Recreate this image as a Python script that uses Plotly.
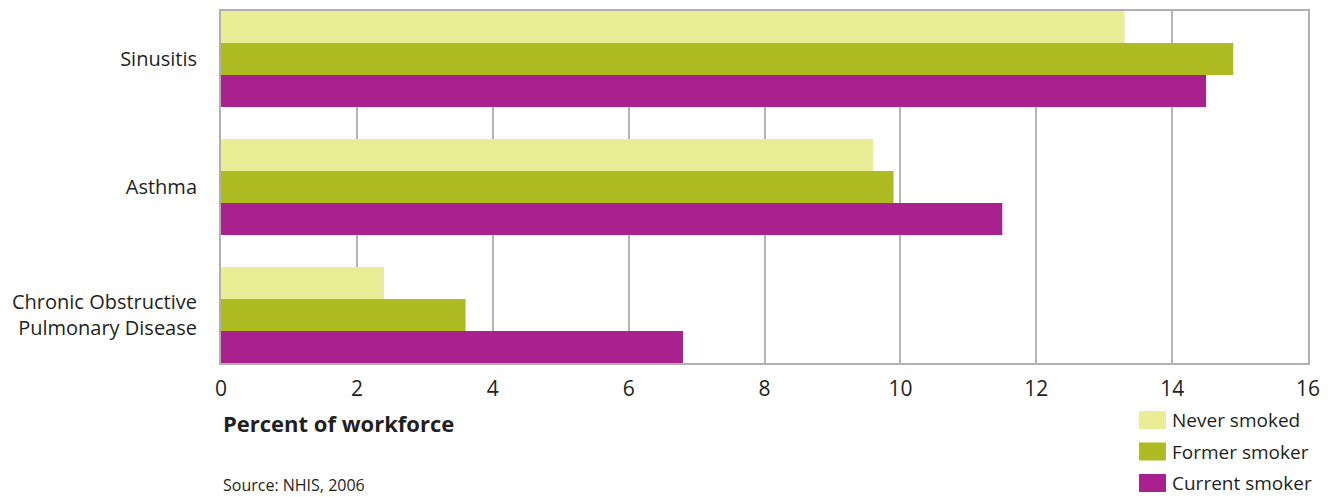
import plotly.graph_objects as go

categories = ["Sinusitis", "Asthma", "Chronic Obstructive<br>Pulmonary Disease"]
series_names = ["Never smoked", "Former smoker", "Current smoker"]
never_smoked = [13.3, 9.6, 2.4]
former_smoker = [14.9, 9.9, 3.6]
current_smoker = [14.5, 11.5, 6.8]
colors = ["#EAEC96", "#AFBC21", "#A8218E"]
x_ticks = [0, 2, 4, 6, 8, 10, 12, 14, 16]

FONT = "Open Sans"
TXT = "#231F20"

fig = go.Figure()
for name, vals, col in zip(series_names, [never_smoked, former_smoker, current_smoker], colors):
    fig.add_trace(go.Bar(y=categories, x=vals, orientation="h", name=name,
                         marker=dict(color=col, line=dict(width=0)), showlegend=False))

# custom legend
for i, (name, col) in enumerate(zip(series_names, colors)):
    yc = 419 + 31.5 * i
    fig.add_shape(type="rect", xref="paper", yref="paper",
                  x0=(1139 - 221) / 1087, x1=(1166 - 221) / 1087,
                  y0=(362 - (yc + 9)) / 352, y1=(362 - (yc - 9)) / 352,
                  fillcolor=col, line=dict(width=0))
    fig.add_annotation(text=name, xref="paper", yref="paper",
                       x=(1170 - 221) / 1087, y=(362 - yc) / 352,
                       xanchor="left", yanchor="middle", showarrow=False,
                       font=dict(family=FONT, size=19, color=TXT))

fig.add_annotation(text="<b>Percent of workforce</b>", xref="paper", yref="paper",
                   x=0, y=(362 - 422) / 352, xanchor="left", yanchor="middle",
                   showarrow=False, font=dict(family=FONT, size=22, color=TXT))
fig.add_annotation(text="Source: NHIS, 2006", xref="paper", yref="paper",
                   x=0, y=(362 - 497) / 352, xanchor="left", yanchor="bottom",
                   showarrow=False, font=dict(family=FONT, size=16, color=TXT))

fig.update_layout(
    width=1332, height=497,
    margin=dict(l=221, r=24, t=11, b=134),
    plot_bgcolor="white", paper_bgcolor="white",
    barmode="group", bargap=0.25, bargroupgap=0,
    font=dict(family=FONT, size=20, color=TXT),
    xaxis=dict(range=[0, 16], tickvals=x_ticks, showgrid=True, gridcolor="#B5B5B5",
               gridwidth=1.5, showline=True, linecolor="#B0B0B0", linewidth=2, mirror=True,
               zeroline=False, ticks="", ticklabelstandoff=6, automargin=False,
               tickfont=dict(family=FONT, size=21, color=TXT)),
    yaxis=dict(autorange=False, range=[2.375, -0.375], showline=True, linecolor="#B0B0B0",
               linewidth=2, mirror=True, ticks="", ticklabelstandoff=18, automargin=False,
               tickfont=dict(family=FONT, size=20, color=TXT)),
)

fig.write_html("out.html")
